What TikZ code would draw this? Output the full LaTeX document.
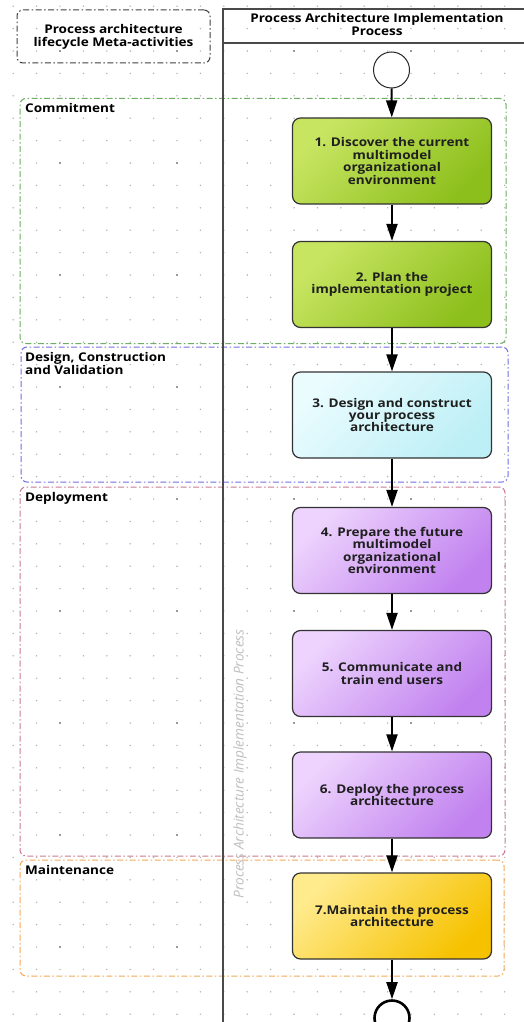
\documentclass[tikz,border=0pt]{standalone}
\usepackage{fontspec}
\setmainfont{Open Sans}[FakeStretch=1.13]
\newfontfamily\rotfont{Open Sans}
\usetikzlibrary{arrows.meta}
\definecolor{gLight}{HTML}{C8E562}
\definecolor{gDark}{HTML}{8CBF1C}
\definecolor{cLight}{HTML}{EAFCFE}
\definecolor{cDark}{HTML}{BDEFF6}
\definecolor{pLight}{HTML}{EDD3FD}
\definecolor{pDark}{HTML}{C182EF}
\definecolor{yLight}{HTML}{FFEA8C}
\definecolor{yDark}{HTML}{F6C200}
\definecolor{phGreen}{HTML}{6CAE62}
\definecolor{phBlue}{HTML}{6F6FE6}
\definecolor{phRed}{HTML}{C87A92}
\definecolor{phOrange}{HTML}{F2A95A}
\definecolor{laneGray}{HTML}{4A4A4A}
\tikzset{
  lbl/.style={font=\bfseries\fontsize{12}{13.5}\selectfont, align=left, inner sep=0pt},
  hdr/.style={font=\bfseries\fontsize{12}{13}\selectfont, align=center, inner sep=0pt},
  phase/.style={draw=#1, line width=1pt, rounded corners=6pt,
    dash pattern=on 6pt off 2.5pt on 1.5pt off 2.5pt, inner sep=0pt},
  task/.style={draw=black!80, line width=1.2pt, rounded corners=8pt,
    minimum width=199pt, minimum height=86pt, align=center, inner sep=2pt,
    font=\bfseries\fontsize{12}{12.4}\selectfont, text=black!88},
  greentask/.style={task, left color=gLight, right color=gDark, shading angle=45},
  cyantask/.style={task, left color=cLight, right color=cDark, shading angle=45},
  purpletask/.style={task, left color=pLight, right color=pDark, shading angle=45},
  yellowtask/.style={task, left color=yLight, right color=yDark, shading angle=45},
  flow/.style={line width=2pt, -{Triangle[width=11pt,length=17pt]}},
  lane/.style={draw=laneGray, line width=1.4pt}
}
\begin{document}
\begin{tikzpicture}[x=1pt,y=-1pt]
\useasboundingbox (0,0) rectangle (524,1022);
\fill[white] (0,0) rectangle (524,1022);
% dotted grid
\foreach \i in {0,...,21}{
  \foreach \j in {0,...,45}{
    \fill[black!30] ({13.2+23.4*\i},{6.2+22.4*\j}) circle (0.8pt);
  }
}
\foreach \i in {2,7,12,17}{
  \foreach \j in {2,7,...,42}{
    \fill[black!65] ({13.2+23.4*\i},{6.2+22.4*\j}) circle (0.95pt);
  }
}
% meta header box
\node[phase=black!75, minimum width=193pt, minimum height=53pt, hdr] (meta) at (113.5,36.5)
  {Process architecture\\lifecycle Meta-activities};
% phase boxes
\node[phase=phGreen, minimum width=486pt, minimum height=245pt] (commit) at (263,221) {};
\node[phase=phBlue, minimum width=487pt, minimum height=135pt] (design) at (264.5,414.5) {};
\node[phase=phRed, minimum width=485pt, minimum height=369pt] (deploy) at (262.5,671.5) {};
\node[phase=phOrange, minimum width=484pt, minimum height=116pt] (maint) at (262,918) {};
\node[lbl, anchor=north west] (commitlbl) at (25,103.5) {Commitment};
\node[lbl, anchor=north west] (designlbl) at (25,352) {Design, Construction\\and Validation};
\node[lbl, anchor=north west] (deploylbl) at (25,492) {Deployment};
\node[lbl, anchor=north west] (maintlbl) at (25,865.5) {Maintenance};
% lane
\draw[lane] (223,1030) -- (223,9) -- (530,9);
\draw[lane] (223,43) -- (530,43);
\node[hdr] (lanehdr) at (377,25) {Process Architecture Implementation\\Process};
\node[rotate=90, text=black!25, inner sep=0pt,
  font=\rotfont\itshape\fontsize{13.6}{15}\selectfont] (lanelbl) at (240,764)
  {Process Architecture Implementation Process};
% events
\node[circle, draw=black!85, line width=1pt, minimum size=36pt, inner sep=0pt, fill=white] (start) at (391.5,70) {};
\node[circle, draw=black, line width=2.6pt, minimum size=35pt, inner sep=0pt, fill=white] (end) at (392,1018) {};
% tasks
\node[greentask] (t1) at (392,161) {1. Discover the current\\multimodel\\organizational\\environment};
\node[greentask] (t2) at (392,284.5) {2. Plan the\\implementation project};
\node[cyantask] (t3) at (392,415) {3. Design and construct\\your process\\architecture};
\node[purpletask] (t4) at (392,550.5) {4. Prepare the future\\multimodel\\organizational\\environment};
\node[purpletask] (t5) at (392,673.5) {5. Communicate and\\train end users};
\node[purpletask] (t6) at (392,795) {6. Deploy the process\\architecture};
\node[yellowtask] (t7) at (392,916) {7.Maintain the process\\architecture};
% flows
\draw[flow] (start) -- (t1);
\draw[flow] (t1) -- (t2);
\draw[flow] (t2) -- (t3);
\draw[flow] (t3) -- (t4);
\draw[flow] (t4) -- (t5);
\draw[flow] (t5) -- (t6);
\draw[flow] (t6) -- (t7);
\draw[flow] (t7) -- (end);
\end{tikzpicture}
\end{document}
